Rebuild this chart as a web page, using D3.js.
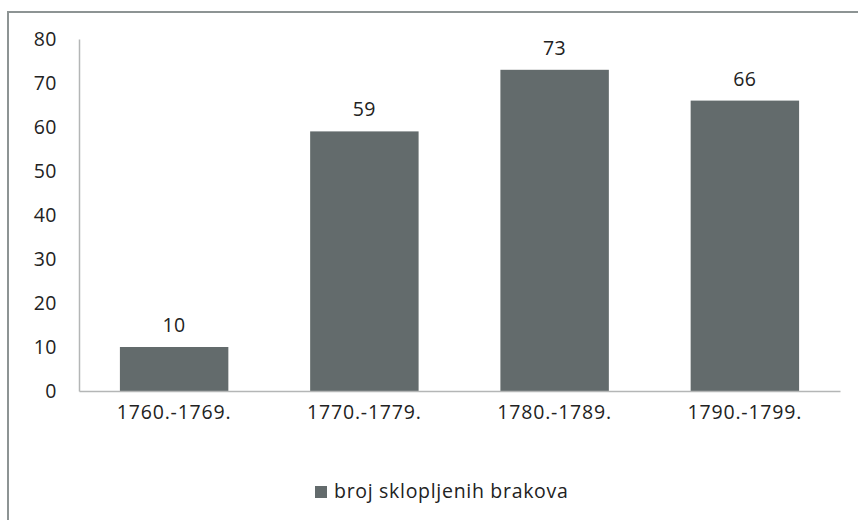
<!DOCTYPE html>
<html>
<head>
<meta charset="utf-8">
<script src="https://cdn.jsdelivr.net/npm/d3@7"></script>
<style>
  body { margin: 0; background: #fff; }
  svg { display: block; font-family: 'Open Sans', sans-serif; }
</style>
</head>
<body>
<div class="chart"></div>
<script>
// data
const periods = ['1760.-1769.', '1770.-1779.', '1780.-1789.', '1790.-1799.'];
const marriages = [10, 59, 73, 66];
const yTicks = [0, 10, 20, 30, 40, 50, 60, 70, 80];
const seriesName = 'broj sklopljenih brakova';

// dimensions
const width = 858;
const height = 520;
const margin = { top: 39, right: 18, bottom: 129, left: 79 };
const innerWidth = width - margin.left - margin.right;
const innerHeight = height - margin.top - margin.bottom;

// colors
const barColor = '#636b6c';
const axisColor = '#b4b6b6';
const textColor = '#222';
const frameColor = '#8d9494';
const fontSize = '19.5px';

const svg = d3.select('.chart')
  .append('svg')
    .attr('width', width)
    .attr('height', height);

// outer frame (right and bottom edges fall outside the picture)
svg.append('rect')
  .attr('x', 8)
  .attr('y', 12)
  .attr('width', width + 10)
  .attr('height', height + 10)
  .attr('fill', 'none')
  .attr('stroke', frameColor)
  .attr('stroke-width', 2);

const inner = svg.append('g')
  .attr('transform', `translate(${margin.left}, ${margin.top})`);

const xScale = d3.scaleBand()
  .domain(periods)
  .range([0, innerWidth])
  .paddingInner(0.43)
  .paddingOuter(0.215);

const yScale = d3.scaleLinear()
  .domain([0, 80])
  .range([innerHeight, 0]);

// bars
inner.selectAll('rect.bar')
  .data(marriages)
  .join('rect')
    .attr('class', 'bar')
    .attr('x', (d, i) => xScale(periods[i]))
    .attr('y', d => yScale(d))
    .attr('width', xScale.bandwidth())
    .attr('height', d => innerHeight - yScale(d))
    .attr('fill', barColor);

// value labels
inner.selectAll('text.value')
  .data(marriages)
  .join('text')
    .attr('class', 'value')
    .attr('x', (d, i) => xScale(periods[i]) + xScale.bandwidth() / 2)
    .attr('y', d => yScale(d) - 15)
    .attr('text-anchor', 'middle')
    .attr('fill', textColor)
    .style('font-size', fontSize)
    .style('letter-spacing', '0.5px')
    .text(d => d);

// y axis
const leftAxis = d3.axisLeft(yScale)
  .tickValues(yTicks)
  .tickSize(0)
  .tickPadding(22);
inner.append('g')
  .call(leftAxis)
  .call(g => g.select('.domain').attr('stroke', axisColor).attr('stroke-width', 1.5))
  .call(g => g.selectAll('text')
    .attr('fill', textColor)
    .style('font-size', fontSize)
    .style('letter-spacing', '0.5px')
    .style('font-family', "'Open Sans', sans-serif"));

// x axis
const bottomAxis = d3.axisBottom(xScale)
  .tickSize(0)
  .tickPadding(14);
inner.append('g')
  .attr('transform', `translate(0, ${innerHeight})`)
  .call(bottomAxis)
  .call(g => g.select('.domain').attr('stroke', axisColor).attr('stroke-width', 1.5))
  .call(g => g.selectAll('text')
    .attr('fill', textColor)
    .style('font-size', fontSize)
    .style('letter-spacing', '0.8px')
    .style('font-family', "'Open Sans', sans-serif"));

// legend
const legend = svg.append('g')
  .attr('transform', 'translate(315, 486)');
legend.append('rect')
  .attr('width', 12)
  .attr('height', 12)
  .attr('fill', barColor);
legend.append('text')
  .attr('x', 19)
  .attr('y', 12)
  .attr('fill', textColor)
  .style('font-size', fontSize)
  .style('letter-spacing', '0.7px')
  .text(seriesName);
</script>
</body>
</html>
